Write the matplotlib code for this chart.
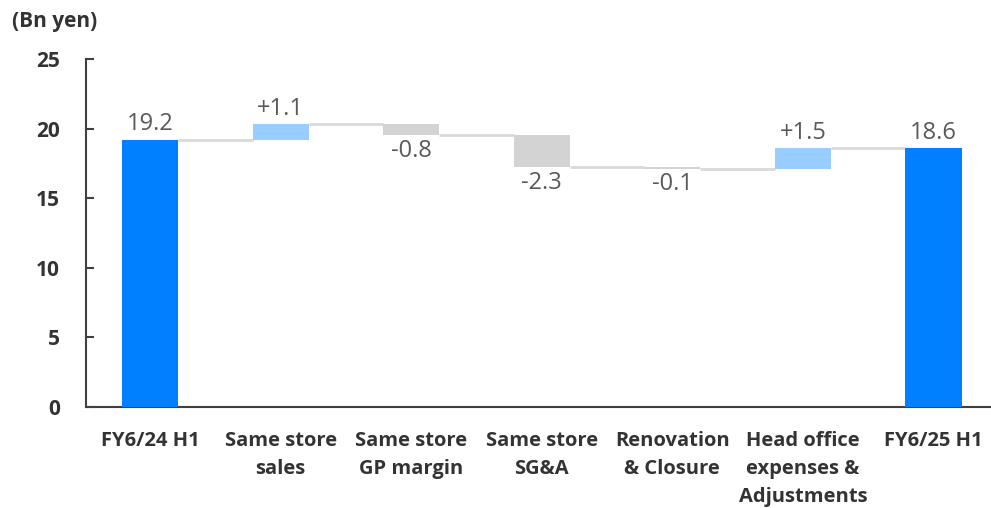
import matplotlib
matplotlib.use("Agg")
import matplotlib.pyplot as plt
import numpy as np

plt.rcParams['font.family'] = ['Open Sans', 'DejaVu Sans']

categories = ["FY6/24 H1", "Same store\nsales", "Same store\nGP margin", "Same store\nSG&A",
              "Renovation\n& Closure", "Head office\nexpenses &\nAdjustments", "FY6/25 H1"]
start_value = 19.2
deltas = [1.1, -0.8, -2.3, -0.1, 1.5]
end_value = 18.6
delta_labels = ["+1.1", "-0.8", "-2.3", "-0.1", "+1.5"]
yticks = [0, 5, 10, 15, 20, 25]

c_total = "#0080FF"
c_up = "#99CCFF"
c_down = "#D3D3D3"
c_conn = "#D9D9D9"
c_text = "#595959"
c_axis = "#404040"

fig = plt.figure(figsize=(9.91, 5.08), dpi=100)
ax = fig.add_axes([0.0868, 0.199, 0.9132, 0.685])

x = np.arange(len(categories))
w = 0.43

# totals
ax.bar(x[0], start_value, width=w, color=c_total, zorder=3)
ax.bar(x[-1], end_value, width=w, color=c_total, zorder=3)
ax.text(x[0], start_value + 0.25, f"{start_value:.1f}", ha="center", va="bottom",
        fontsize=17, color=c_text)
ax.text(x[-1], end_value + 0.25, f"{end_value:.1f}", ha="center", va="bottom",
        fontsize=17, color=c_text)

levels = [start_value]
cur = start_value
for i, d in enumerate(deltas):
    xi = x[i + 1]
    bottom = cur if d >= 0 else cur + d
    ax.bar(xi, abs(d), bottom=bottom, width=w, color=c_up if d >= 0 else c_down, zorder=3)
    if d >= 0:
        ax.text(xi, cur + d + 0.25, delta_labels[i], ha="center", va="bottom",
                fontsize=17, color=c_text)
    else:
        ax.text(xi, cur + d - 0.25, delta_labels[i], ha="center", va="top",
                fontsize=17, color=c_text)
    cur = round(cur + d, 2)
    levels.append(cur)

# connectors
for i in range(len(categories) - 1):
    ax.plot([x[i] + w / 2, x[i + 1] - w / 2], [levels[i], levels[i]],
            color=c_conn, lw=2, zorder=2, solid_capstyle="butt")

ax.set_xlim(-0.49, 6.44)
ax.set_ylim(0, 25)
ax.set_yticks(yticks)
ax.set_yticklabels([str(t) for t in yticks], fontsize=15, fontweight="bold", color="#333333")
ax.set_xticks(x)
ax.set_xticklabels(categories, fontsize=14.5, fontweight="bold", color="#333333", linespacing=1.55)
ax.tick_params(axis="x", length=0, pad=17)
ax.tick_params(axis="y", direction="in", length=6, width=1.5, color=c_axis, pad=19)
for s in ["top", "right"]:
    ax.spines[s].set_visible(False)
for s in ["left", "bottom"]:
    ax.spines[s].set_color(c_axis)
    ax.spines[s].set_linewidth(1.5)

fig.text(0.012, 0.958, "(Bn yen)", fontsize=15, fontweight="bold", color="#333333",
         ha="left", va="center")

fig.savefig("out.png", dpi=100)
